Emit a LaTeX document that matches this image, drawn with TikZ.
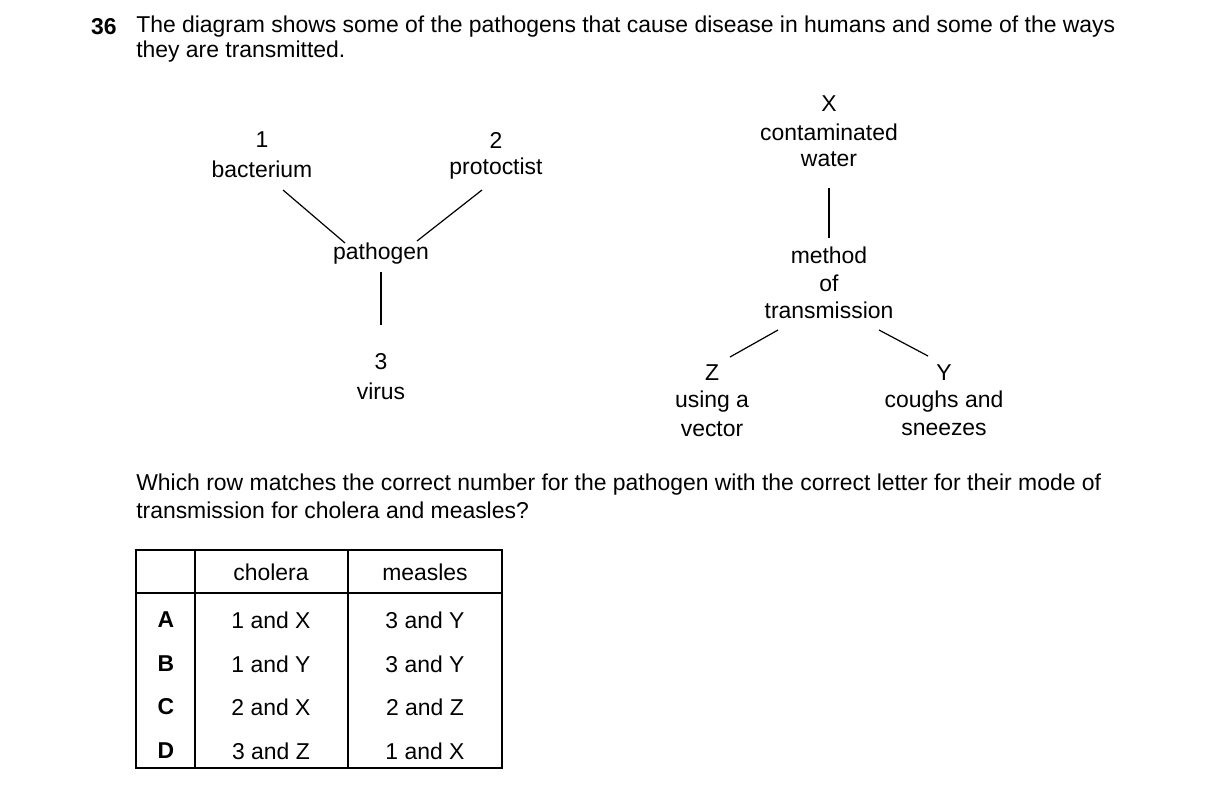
\documentclass[tikz,border=0pt]{standalone}
\usepackage{fontspec}
\setmainfont{Liberation Sans}
\begin{document}
\begin{tikzpicture}[x=0.75pt,y=-0.75pt,
  t/.style={inner sep=0pt,anchor=center,font=\fontsize{17.2}{20}\selectfont},
  ln/.style={line width=0.9pt}]
\useasboundingbox (0,0) rectangle (1216,793);
\node[t,font=\fontsize{17.2}{20}\selectfont\bfseries] (num) at (104,27) {36};
\node[t,anchor=west] (q1) at (136,27) {The diagram shows some of the pathogens that cause disease in humans and some of the ways};
\node[t,anchor=west] (q2) at (136,52) {they are transmitted.};
% left tree
\node[t] (n1) at (262,140) {1};
\node[t] (bac) at (262,169) {bacterium};
\node[t] (n2) at (496,140) {2};
\node[t] (pro) at (496,169) {protoctist};
\node[t] (pat) at (381,254) {pathogen};
\node[t] (n3) at (381,362) {3};
\node[t] (vir) at (381,391) {virus};
\coordinate (a1) at (283,190); \coordinate (a2) at (345,243);
\coordinate (b1) at (482,190); \coordinate (b2) at (417,241);
\coordinate (c1) at (381,272); \coordinate (c2) at (381,325);
\draw[ln] (a1) -- (a2); \draw[ln] (b1) -- (b2); \draw[ln] (c1) -- (c2);
% right tree
\node[t] (X) at (829,104) {X};
\node[t] (cw1) at (829,132) {contaminated};
\node[t] (cw2) at (829,159) {water};
\node[t] (m1) at (829,255) {method};
\node[t] (m2) at (829,283) {of};
\node[t] (m3) at (829,310) {transmission};
\node[t] (Z) at (712,373) {Z};
\node[t] (z1) at (712,402) {using a};
\node[t] (z2) at (712,429) {vector};
\node[t] (Y) at (944,373) {Y};
\node[t] (y1) at (944,402) {coughs and};
\node[t] (y2) at (944,429) {sneezes};
\coordinate (d1) at (829,188); \coordinate (d2) at (829,238);
\coordinate (e1) at (778,330); \coordinate (e2) at (730,357);
\coordinate (f1) at (879,330); \coordinate (f2) at (928,356);
\draw[ln] (d1) -- (d2); \draw[ln] (e1) -- (e2); \draw[ln] (f1) -- (f2);
% question
\node[t,anchor=west] (w1) at (136,485) {Which row matches the correct number for the pathogen with the correct letter for their mode of};
\node[t,anchor=west] (w2) at (136,510) {transmission for cholera and measles?};
% table
\draw[ln] (136,550) rectangle (502,768);
\draw[ln] (195,550) -- (195,768);
\draw[ln] (348,550) -- (348,768);
\draw[ln] (136,593) -- (502,593);
\node[t] (hc) at (271,572) {cholera};
\node[t] (hm) at (425,572) {measles};
\foreach \L/\c/\m/\y in {A/1 and X/3 and Y/620, B/1 and Y/3 and Y/664, C/2 and X/2 and Z/707, D/3 and Z/1 and X/751}{
  \node[t,font=\fontsize{17.2}{20}\selectfont\bfseries] (r\L) at (166,\y) {\L};
  \node[t] (c\L) at (271,\y) {\c};
  \node[t] (m\L) at (425,\y) {\m};
}
\end{tikzpicture}
\end{document}
